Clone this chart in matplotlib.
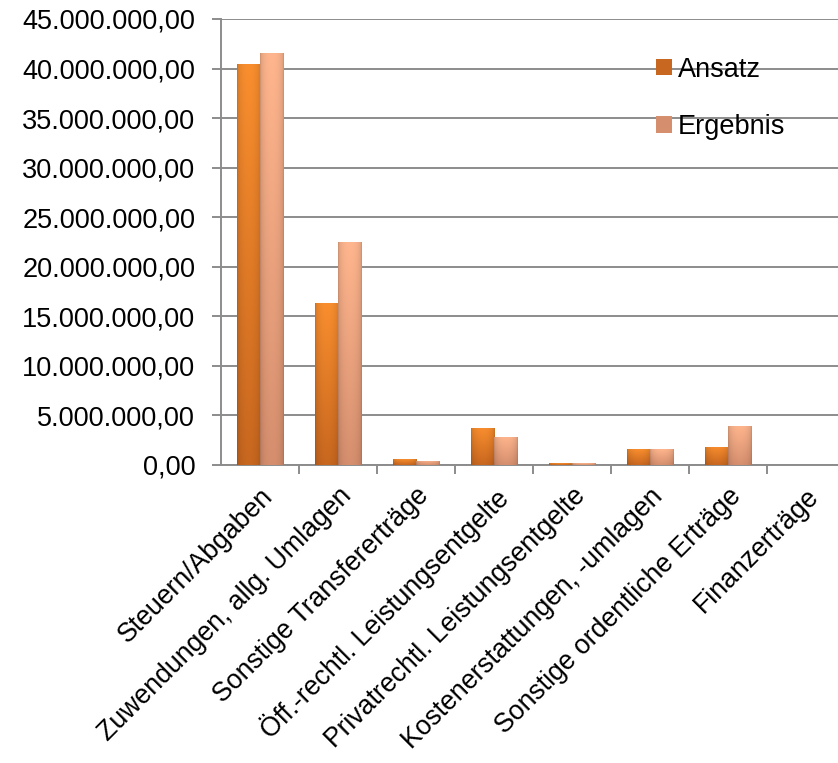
import numpy as np
import matplotlib
matplotlib.use("Agg")
import matplotlib.pyplot as plt
from matplotlib.ticker import FuncFormatter, FixedLocator
from matplotlib.colors import to_rgb

plt.rcParams["font.family"] = ["Liberation Sans", "DejaVu Sans"]

categories = [
    "Steuern/Abgaben",
    "Zuwendungen, allg. Umlagen",
    "Sonstige Transfererträge",
    "Öff.-rechtl. Leistungsentgelte",
    "Privatrechtl. Leistungsentgelte",
    "Kostenerstattungen, -umlagen",
    "Sonstige ordentliche Erträge",
    "Finanzerträge",
]
ansatz = [40_500_000, 16_300_000, 600_000, 3_760_000, 200_000, 1_580_000, 1_820_000, 50_000]
ergebnis = [41_600_000, 22_500_000, 420_000, 2_830_000, 170_000, 1_600_000, 3_970_000, 40_000]
series_colors = {"Ansatz": ("#F98E2E", "#C8671F"), "Ergebnis": ("#FFB68E", "#D68F6E")}

GRID = "#8C8C8C"
FS = 19.5


def de_format(v, pos=None):
    s = f"{v:,.2f}"
    return s.replace(",", "X").replace(".", ",").replace("X", ".")


def shade_bar(ax, patch, top_hex, bot_hex):
    # vertical blend plus darker left/right edges, clipped to the bar
    x0, y0 = patch.get_x(), patch.get_y()
    w, h = patch.get_width(), patch.get_height()
    if h <= 0:
        return
    top = np.array(to_rgb(top_hex))
    bot = np.array(to_rgb(bot_hex))
    ny, nx = 64, 32
    t = np.linspace(0, 1, ny)[:, None, None]
    col = top * (1 - t) + bot * t
    xs = np.linspace(0, 1, nx)
    edge = 0.80 + 0.20 * np.sin(np.pi * xs) ** 0.4
    img = np.clip(col * edge[None, :, None], 0, 1)
    im = ax.imshow(img, extent=(x0, x0 + w, y0, y0 + h), aspect="auto",
                   origin="upper", zorder=3, interpolation="bilinear")
    im.set_clip_path(patch)


fig = plt.figure(figsize=(8.38, 7.63), dpi=100)
ax = fig.add_axes([221 / 838, 298 / 763, 624 / 838, 446 / 763])

x = np.arange(len(categories))
width = 0.30
bars_a = ax.bar(x - width / 2, ansatz, width, color=series_colors["Ansatz"][1],
                label="Ansatz", zorder=2, linewidth=0)
bars_e = ax.bar(x + width / 2, ergebnis, width, color=series_colors["Ergebnis"][1],
                label="Ergebnis", zorder=2, linewidth=0)
for b in bars_a:
    shade_bar(ax, b, *series_colors["Ansatz"])
for b in bars_e:
    shade_bar(ax, b, *series_colors["Ergebnis"])

ax.set_xlim(-0.5, len(categories) - 0.5)
ax.set_ylim(0, 45_000_000)
ax.yaxis.set_major_locator(FixedLocator(np.arange(0, 45_000_001, 5_000_000)))
ax.yaxis.set_major_formatter(FuncFormatter(de_format))
ax.grid(axis="y", color=GRID, linewidth=1.4, zorder=0)
ax.set_axisbelow(True)

for side in ("top", "right"):
    ax.spines[side].set_visible(False)
for side in ("left", "bottom"):
    ax.spines[side].set_color(GRID)
    ax.spines[side].set_linewidth(1.4)

ax.tick_params(axis="y", labelsize=FS, length=6.5, width=1.4, color=GRID, pad=12)
ax.set_xticks(x)
ax.set_xticklabels(categories, rotation=45, ha="right", rotation_mode="anchor", fontsize=19.2)
ax.tick_params(axis="x", which="major", length=0, pad=13)
ax.set_xticks(np.arange(0.5, len(categories) - 0.5, 1), minor=True)
ax.tick_params(axis="x", which="minor", length=6.5, width=1.4, color=GRID)

ax.legend(frameon=False, loc="upper left", bbox_to_anchor=(645 / 838, 717 / 763),
          bbox_transform=fig.transFigure, fontsize=FS, handlelength=0.6,
          handleheight=0.55, handletextpad=0.2, labelspacing=1.15, borderaxespad=0)

fig.savefig("out.png", dpi=100)
